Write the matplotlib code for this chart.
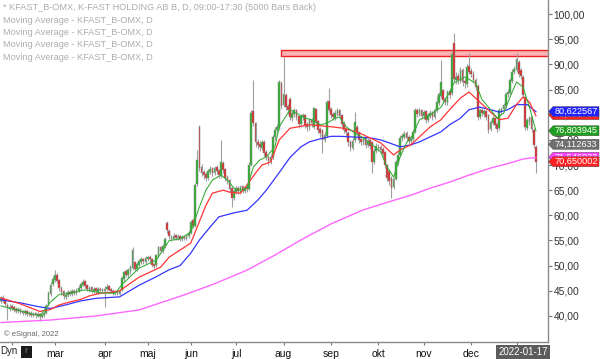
import matplotlib

matplotlib.use("Agg")
import matplotlib.pyplot as plt
from matplotlib import transforms
from matplotlib.patches import Polygon, Rectangle
import numpy as np
import pandas as pd

plt.rcParams["font.family"] = ["Liberation Sans", "DejaVu Sans"]

# ---- daily bars, 2021-01-25 .. 2022-01-17 (Stockholm trading days) ----
HOLIDAYS = ["2021-04-02", "2021-04-05", "2021-05-13", "2021-06-25",
            "2021-12-24", "2021-12-31", "2022-01-06"]

OPEN = [
    43.0, 43.6, 43.1, 42.2, 41.4,
    41.9, 41.7, 41.3, 40.9, 41.3, 40.9, 40.5, 40.9, 40.3, 40.6, 40.1, 40.5, 40.0, 40.3, 39.8, 40.1, 40.5, 42.1, 44.3, 46.4,
    47.2, 48.1, 47.1, 45.6, 44.9, 43.8, 44.1, 44.8, 44.3, 45.0, 44.5, 45.0, 45.5, 46.2, 46.9, 46.1, 45.2, 45.7, 44.9, 45.5, 44.8, 45.4, 45.2,
    44.9, 45.3, 45.9, 45.3, 45.0, 44.5, 44.9, 44.4, 45.1, 47.4, 48.8, 48.1, 48.9, 49.5, 50.6, 49.3, 50.1, 50.7, 51.3, 50.8,
    51.4, 51.7, 51.2, 50.3, 50.1, 52.1, 53.7, 52.9, 53.9, 58.4, 56.9, 55.7, 55.3, 56.0, 55.4, 55.8, 55.2, 55.7, 55.3, 55.8,
    56.4, 59.0, 57.9, 66.2, 77.6, 69.6, 68.5, 68.1, 67.4, 68.7, 69.3, 68.4, 69.5, 68.9, 67.8, 70.4, 69.1, 67.5, 66.9, 65.3, 63.4,
    64.7, 65.4, 64.7, 65.7, 64.9, 65.5, 65.3, 70.1, 80.6, 78.2, 74.6, 74.1, 73.4, 74.6, 72.5, 71.6, 70.7, 71.5, 75.6, 76.9, 77.4, 86.2,
    82.0, 83.8, 81.6, 83.0, 79.4, 80.1, 80.9, 79.6, 78.1, 79.5, 79.9, 78.1, 77.5, 78.9, 77.6, 81.1, 78.7, 77.1, 76.9, 74.9, 75.8, 82.6,
    81.1, 80.1, 79.4, 80.2, 80.9, 79.9, 78.3, 77.1, 76.4, 74.6, 73.4, 74.9, 77.6, 76.4, 75.1, 74.5, 75.3, 73.9, 74.9, 74.5, 70.6, 72.7,
    73.4, 73.6, 73.1, 72.5, 70.0, 68.8, 67.4, 65.6, 67.3, 70.4, 71.9, 75.3, 75.6, 76.3, 75.5, 74.7, 75.1, 76.6, 80.9, 80.1, 80.9,
    79.7, 80.6, 78.9, 79.7, 80.4, 79.5, 81.0, 82.4, 83.8, 84.8, 83.1, 82.4, 84.6, 84.3, 94.2, 86.8, 87.6, 86.7, 88.9, 86.6, 86.0, 89.7,
    88.7, 88.1, 86.9, 85.6, 79.6, 80.9, 80.2, 80.7, 79.8, 77.1, 78.4, 79.3, 78.1, 77.4, 80.8, 81.1, 81.7, 84.1, 84.4, 86.7, 88.4,
    88.8, 90.5, 88.9, 87.5, 83.5, 77.4, 78.6, 79.5, 77.0, 73.6,
]
HIGH = [
    44.0, 44.2, 43.4, 42.5, 42.3,
    42.4, 42.0, 41.8, 41.7, 41.6, 41.2, 41.3, 41.1, 41.0, 40.9, 40.8, 40.7, 40.7, 40.6, 40.6, 41.0, 42.3, 44.9, 46.8, 48.0,
    49.2, 48.6, 47.4, 46.0, 45.2, 44.8, 45.1, 45.2, 45.3, 45.4, 45.5, 46.1, 46.8, 47.4, 47.2, 46.4, 46.0, 46.0, 45.8, 45.8, 45.7, 45.8, 45.6,
    45.9, 46.3, 46.2, 45.6, 45.3, 45.2, 45.2, 45.4, 47.9, 49.0, 49.3, 49.5, 50.1, 53.8, 51.0, 50.7, 51.3, 51.7, 51.6, 51.9,
    52.0, 52.1, 51.5, 50.6, 52.4, 54.0, 54.0, 54.3, 55.6, 58.8, 57.2, 56.1, 56.4, 56.3, 56.2, 56.1, 56.0, 56.0, 56.3, 57.0,
    59.0, 59.4, 66.5, 73.0, 78.0, 70.2, 69.0, 68.6, 69.3, 69.8, 69.7, 69.9, 70.0, 69.2, 75.0, 70.8, 69.4, 68.0, 67.2, 65.6, 65.3,
    65.8, 65.9, 66.0, 66.1, 65.9, 65.9, 70.5, 81.0, 86.9, 78.6, 75.2, 74.8, 75.0, 74.9, 72.9, 72.0, 72.2, 76.0, 77.6, 78.2, 86.9, 86.6,
    91.5, 84.3, 82.2, 83.5, 80.8, 81.4, 81.2, 79.9, 80.1, 80.4, 80.2, 78.6, 79.3, 79.4, 81.6, 81.4, 79.0, 77.5, 77.2, 76.5, 83.0, 85.3,
    81.5, 80.6, 80.9, 81.4, 81.2, 80.2, 78.7, 77.6, 76.8, 75.0, 75.3, 80.5, 78.0, 76.8, 75.6, 75.8, 75.6, 75.3, 75.2, 74.8, 73.4, 74.3,
    74.2, 74.0, 73.5, 72.8, 70.3, 69.2, 67.8, 67.7, 71.0, 72.6, 75.9, 76.4, 76.8, 76.7, 75.9, 75.8, 77.1, 81.3, 81.4, 81.4, 81.2,
    81.0, 80.9, 80.3, 80.9, 80.8, 81.4, 83.7, 84.6, 90.9, 85.2, 83.6, 85.0, 85.1, 92.6, 96.2, 88.5, 88.2, 89.4, 89.2, 87.2, 90.0, 92.3,
    89.3, 88.6, 87.3, 86.0, 81.4, 81.3, 81.1, 81.0, 80.1, 79.0, 79.7, 79.6, 78.5, 81.3, 81.6, 82.4, 84.5, 85.1, 87.3, 89.0, 89.6,
    92.3, 90.9, 89.3, 87.8, 83.8, 79.4, 79.8, 79.8, 77.3, 73.9,
]
LOW = [
    42.6, 42.7, 41.9, 39.2, 41.0,
    41.2, 40.8, 40.5, 40.6, 40.4, 40.2, 40.2, 40.0, 40.0, 39.8, 39.8, 39.6, 39.7, 39.0, 39.5, 39.8, 40.3, 41.9, 44.0, 45.9,
    46.8, 46.5, 45.0, 44.2, 43.4, 43.3, 43.8, 44.0, 44.0, 44.2, 44.2, 44.7, 45.2, 45.9, 45.6, 44.9, 44.8, 44.6, 44.5, 44.4, 44.4, 44.7, 44.5,
    41.8, 45.0, 44.9, 44.5, 44.2, 44.2, 44.1, 44.1, 44.9, 47.0, 47.8, 47.6, 48.3, 49.2, 48.9, 49.0, 49.7, 50.3, 50.4, 50.4,
    51.0, 50.8, 49.8, 49.5, 49.8, 51.8, 52.5, 52.5, 53.5, 56.5, 55.2, 54.9, 55.0, 55.0, 55.0, 54.9, 54.9, 55.0, 55.0, 55.5,
    56.2, 57.4, 57.6, 65.8, 68.8, 67.8, 67.2, 66.8, 67.0, 68.2, 67.9, 68.0, 68.3, 67.5, 67.5, 68.4, 66.8, 66.2, 64.6, 61.7, 63.0,
    64.2, 64.3, 64.3, 64.5, 64.5, 64.7, 65.0, 69.8, 77.8, 73.6, 73.2, 72.8, 72.9, 71.8, 70.9, 70.0, 70.2, 71.2, 75.0, 76.3, 77.0, 81.2,
    81.6, 80.9, 80.2, 79.0, 78.8, 79.6, 78.9, 77.4, 77.6, 78.9, 77.3, 76.8, 77.0, 77.6, 77.2, 78.0, 76.4, 75.6, 72.4, 74.5, 75.5, 80.5,
    79.4, 78.9, 79.0, 79.8, 79.3, 77.6, 76.4, 75.8, 73.8, 72.8, 73.0, 74.6, 75.9, 74.4, 73.9, 74.0, 73.4, 73.5, 73.2, 68.4, 70.2, 72.3,
    72.8, 72.4, 71.6, 69.4, 66.8, 66.0, 63.4, 65.2, 67.0, 70.0, 71.5, 74.8, 75.1, 74.8, 74.2, 74.2, 74.7, 76.3, 79.6, 79.7, 79.2,
    79.2, 78.4, 78.5, 79.3, 79.0, 79.2, 80.6, 82.0, 83.4, 82.4, 81.9, 82.0, 83.4, 84.0, 86.5, 86.0, 86.0, 86.3, 85.8, 85.4, 85.6, 88.0,
    87.4, 86.2, 84.9, 79.0, 79.1, 79.7, 79.6, 78.9, 76.4, 76.7, 77.9, 77.4, 76.6, 77.0, 80.2, 80.6, 81.3, 83.6, 84.0, 86.3, 88.0,
    88.4, 87.4, 87.0, 83.5, 77.0, 76.9, 78.0, 76.6, 73.4, 68.4,
]
CLOSE = [
    43.5, 43.0, 42.3, 41.5, 41.8,
    41.6, 41.2, 41.0, 41.3, 40.8, 40.6, 40.9, 40.4, 40.6, 40.2, 40.4, 40.1, 40.3, 39.9, 40.2, 40.6, 42.0, 44.5, 46.2, 47.3,
    48.0, 47.0, 45.5, 44.8, 43.9, 44.2, 44.7, 44.4, 44.9, 44.6, 45.0, 45.6, 46.3, 46.8, 46.0, 45.3, 45.6, 45.0, 45.4, 44.9, 45.3, 45.1, 45.0,
    45.4, 45.8, 45.2, 44.9, 44.6, 44.8, 44.5, 45.0, 47.5, 48.6, 48.2, 49.0, 49.6, 53.0, 49.4, 50.2, 50.8, 51.2, 50.9, 51.5,
    51.6, 51.3, 50.2, 50.0, 52.0, 53.6, 53.0, 53.8, 55.2, 57.0, 55.8, 55.4, 55.9, 55.5, 55.7, 55.3, 55.6, 55.4, 55.9, 56.5,
    58.6, 57.8, 66.0, 71.0, 69.5, 68.4, 68.0, 67.5, 68.8, 69.2, 68.5, 69.4, 68.8, 68.0, 70.5, 69.0, 67.4, 66.8, 65.2, 63.5, 64.8,
    65.3, 64.8, 65.6, 65.0, 65.4, 65.2, 70.0, 80.3, 78.3, 74.5, 74.0, 73.5, 74.5, 72.4, 71.5, 70.8, 71.6, 75.5, 77.0, 77.5, 86.5, 81.8,
    84.0, 81.5, 80.9, 79.5, 80.2, 80.8, 79.5, 78.2, 79.6, 79.8, 78.0, 77.6, 78.8, 78.3, 81.2, 78.6, 77.0, 76.4, 75.0, 76.0, 82.5, 81.0,
    80.0, 79.5, 80.3, 80.8, 79.8, 78.2, 77.0, 76.5, 74.5, 73.5, 74.8, 78.5, 76.5, 75.0, 74.6, 75.2, 74.0, 74.8, 73.8, 70.5, 72.8, 73.8,
    73.5, 73.0, 72.2, 70.0, 67.5, 66.8, 65.5, 67.2, 70.5, 72.0, 75.4, 75.8, 76.2, 75.4, 74.8, 75.2, 76.5, 80.8, 80.2, 80.8, 79.8,
    80.5, 79.0, 79.8, 80.3, 79.6, 80.9, 82.5, 84.0, 86.5, 83.0, 82.5, 84.5, 84.0, 92.0, 87.0, 87.5, 86.8, 88.8, 86.5, 86.2, 89.5, 88.5,
    88.0, 86.8, 85.5, 79.5, 80.8, 80.3, 80.6, 79.6, 77.0, 78.5, 79.2, 78.0, 77.2, 80.9, 81.0, 81.8, 84.0, 84.5, 86.8, 88.5, 89.0,
    91.0, 88.0, 87.6, 84.0, 77.5, 78.8, 79.3, 77.2, 74.0, 70.65,
]

# ---- moving averages at selected bars ----
GREEN_IDX = [0, 9, 18, 23, 27, 32, 39, 46, 53, 56, 64, 72, 78, 83, 88, 92, 95, 98, 102, 105,
             108, 111, 114, 117, 120, 123, 127, 129, 134, 137, 141, 144, 148, 151, 155, 157, 160, 164, 168, 171,
             176, 179, 182, 185, 188, 191, 194, 199, 204, 208, 210, 215, 220, 223, 227, 230, 233, 236, 239, 242,
             245, 248]
GREEN_VAL = [42.0, 41.0, 40.0, 42.8, 44.3, 44.5, 45.2, 44.6, 44.5, 46.2, 49.5, 51.1, 55.0, 55.3, 56.7, 61.7, 65.0, 67.0, 68.0, 67.0,
             65.4, 65.0, 65.4, 69.6, 71.0, 71.6, 73.6, 77.6, 81.0, 80.3, 79.3, 79.0, 78.0, 78.3, 79.3, 79.5, 77.6, 76.4, 75.4, 74.4,
             72.6, 69.6, 67.6, 71.6, 74.4, 76.0, 79.0, 80.0, 81.5, 84.5, 86.3, 87.5, 86.3, 83.0, 81.0, 79.3, 80.3, 83.5, 86.5, 85.5,
             81.5, 76.8]
RED_IDX = [0, 9, 18, 23, 27, 32, 37, 41, 46, 51, 55, 60, 64, 69, 74, 78, 83, 88, 91, 95,
           98, 103, 106, 111, 114, 118, 121, 125, 129, 134, 143, 153, 159, 166, 176, 182, 185, 190, 194, 199,
           204, 208, 213, 217, 222, 227, 231, 235, 239, 242, 245, 248]
RED_VAL = [43.6, 42.4, 40.9, 41.3, 42.2, 42.8, 43.3, 44.0, 44.5, 44.7, 45.0, 46.5, 47.7, 48.7, 49.7, 51.7, 53.1, 54.5, 57.7, 62.0,
           64.4, 65.0, 64.6, 64.4, 66.0, 68.4, 70.0, 70.6, 75.0, 77.3, 78.0, 77.6, 77.3, 76.4, 74.4, 72.0, 73.0, 74.0, 75.6, 77.6,
           79.0, 81.0, 83.3, 84.5, 82.5, 80.5, 79.0, 79.3, 82.0, 83.5, 82.5, 79.8]
BLUE_IDX = [0, 9, 18, 23, 30, 37, 44, 55, 64, 72, 78, 83, 88, 92, 97, 101, 108, 114, 119, 123,
            129, 134, 139, 143, 148, 153, 157, 162, 166, 171, 176, 180, 185, 190, 194, 199, 204, 208, 213, 217,
            222, 227, 231, 235, 239, 244, 248]
BLUE_VAL = [43.2, 42.6, 41.8, 41.5, 42.2, 43.0, 43.5, 43.8, 46.1, 47.8, 49.2, 50.0, 52.5, 55.1, 57.7, 59.7, 60.5, 61.0, 63.0, 65.0,
            68.5, 71.5, 73.6, 74.6, 75.2, 75.7, 75.7, 75.6, 75.5, 75.4, 75.0, 74.4, 73.6, 74.0, 74.6, 75.6, 76.6, 78.0, 79.3, 81.0,
            81.5, 81.0, 80.5, 81.0, 82.0, 82.0, 80.6]
MAG_IDX = [0, 23, 44, 64, 85, 99, 114, 127, 139, 153, 168, 180, 190, 199, 208, 217, 227, 236, 242, 248]
MAG_VAL = [38.7, 39.2, 40.0, 41.2, 44.2, 46.4, 49.1, 52.1, 55.1, 58.3, 61.1, 62.7, 64.0, 65.4, 66.6, 68.0, 69.4, 70.4, 71.2, 71.5]

# resistance zone: first bar, low, high
ZONE = (129.7, 91.6, 92.9)

# last-value tags on the price scale (drawn in this order, later ones on top)
TAG_VALUES = [80.0, 80.622567, 76.803945, 74.112633, 71.546033, 70.650002]
TAG_TEXT = ["79,591763", "80,622567", "76,803945", "74,112633", "71,546033", "70,650002"]
TAG_COLORS = ["#ff2222", "#2222ff", "#1f9e1f", "#6e6e6e", "#ff44ff", "#ff2222"]

MONTHS_SV = ["jan", "feb", "mar", "apr", "maj", "jun", "jul", "aug", "sep", "okt", "nov", "dec"]
HIDDEN_MONTH_LABELS = [("2021", 2), ("2022", 1)]

LEGEND = ["* KFAST_B-OMX, K-FAST HOLDING AB B, D, 09:00-17:30 (5000 Bars Back)"] + \
         ["Moving Average - KFAST_B-OMX, D"] * 4

# ---------------------------------------------------------------------------
dates = pd.bdate_range("2021-01-25", "2022-01-17")
dates = dates[~dates.isin(pd.to_datetime(HOLIDAYS))]
n = len(CLOSE)
dates = dates[:n]
x = np.arange(n)
o, h, l, c = (np.array(v) for v in (OPEN, HIGH, LOW, CLOSE))

W, H = 600, 359
fig = plt.figure(figsize=(W / 100, H / 100), dpi=100)
ax = fig.add_axes([0, 17 / H, 548 / W, 342 / H])
ax.set_xlim(-0.46, 253.6)
ax.set_ylim(34.83, 102.79)

# zone
ax.add_patch(Rectangle((ZONE[0], ZONE[1]), 260 - ZONE[0], ZONE[2] - ZONE[1],
                       facecolor="#f8b4b4", edgecolor="#ee2020", lw=1.0, zorder=1))

# candles
ax.vlines(x, l, h, color="#a0a0a0", lw=0.8, zorder=2)
up = c >= o
body_col = np.where(up, "#25b025", "#e02424")
ax.bar(x, np.abs(c - o) + 0.05, bottom=np.minimum(o, c), width=0.8,
       color=body_col, edgecolor="#909090", linewidth=0.35, zorder=3)

# moving averages
ax.plot(MAG_IDX, MAG_VAL, color="#ff66ff", lw=1.0, zorder=4)
ax.plot(BLUE_IDX, BLUE_VAL, color="#3535ff", lw=0.9, zorder=4)
ax.plot(RED_IDX, RED_VAL, color="#ff3333", lw=0.9, zorder=4)
ax.plot(GREEN_IDX, GREEN_VAL, color="#33aa33", lw=0.75, zorder=4)

# spines / axes
for s in ("top", "left"):
    ax.spines[s].set_visible(False)
for s in ("right", "bottom"):
    ax.spines[s].set_color("#8a8a8a")
    ax.spines[s].set_linewidth(1.0)

ax.yaxis.tick_right()
yt = list(range(40, 101, 5))
ax.set_yticks(yt)
ax.set_yticklabels([f"{v},00" for v in yt])
ax.tick_params(axis="y", direction="out", length=3, width=0.8, color="#777777",
               labelsize=7.4, labelcolor="#333333", pad=1)

month_pos, month_lab = [], []
for i in range(1, n):
    if dates[i].month != dates[i - 1].month:
        month_pos.append(i)
        lab = MONTHS_SV[dates[i].month - 1]
        if (str(dates[i].year), dates[i].month) in HIDDEN_MONTH_LABELS:
            lab = ""
        month_lab.append(lab)
ax.set_xticks(month_pos)
ax.set_xticklabels(month_lab)
ax.tick_params(axis="x", direction="out", length=2, width=0.8, color="#777777",
               labelsize=7.5, labelcolor="#111111", pad=3)

# header lines
for k, txt in enumerate(LEGEND):
    ax.text(3 / 548, 1 - (8 + 12.3 * k) / 342, txt, transform=ax.transAxes,
            fontsize=6.6, color="#adadad", va="center", ha="left")

ax.text(4 / 548, 8 / 342, "\u00a9 eSignal, 2022", transform=ax.transAxes,
        fontsize=5.5, color="#666666", va="center", ha="left")

# price tags on the right scale; each tag (box + text) sits above the previous one
ppu = 342 / (102.79 - 34.83)
half = 5.0 / ppu
blend = transforms.blended_transform_factory(ax.transAxes, ax.transData)
px = 1 / 548
for k, (v, t, col) in enumerate(zip(TAG_VALUES, TAG_TEXT, TAG_COLORS)):
    pts = [(1 + 0.5 * px, v), (1 + 5 * px, v + half), (1 + 51 * px, v + half),
           (1 + 51 * px, v - half), (1 + 5 * px, v - half)]
    ax.add_patch(Polygon(pts, closed=True, transform=blend, facecolor=col,
                         edgecolor="#444444", lw=0.3, clip_on=False, zorder=6 + 2 * k))
    ax.text(1 + 28 * px, v, t, transform=blend, fontsize=6.6, color="white",
            ha="center", va="center", clip_on=False, zorder=7 + 2 * k)

# bottom strip
fig.text(548 / W, 7 / H, "2022-01-17", fontsize=7, color="white", ha="right",
         va="center", bbox=dict(boxstyle="square,pad=0.25", fc="#5c5c5c", ec="none"))
fig.text(0.5 / W, 7.5 / H, "Dyn", fontsize=7, color="#222222", ha="left", va="center")
fig.patches.append(Rectangle((21 / W, 1.5 / H), 11 / W, 12 / H, transform=fig.transFigure,
                             facecolor="#1a1a1a", edgecolor="none"))
fig.text(26.5 / W, 7.5 / H, "f", fontsize=6, color="#777777", ha="center", va="center")

fig.savefig("out.png", dpi=100)
